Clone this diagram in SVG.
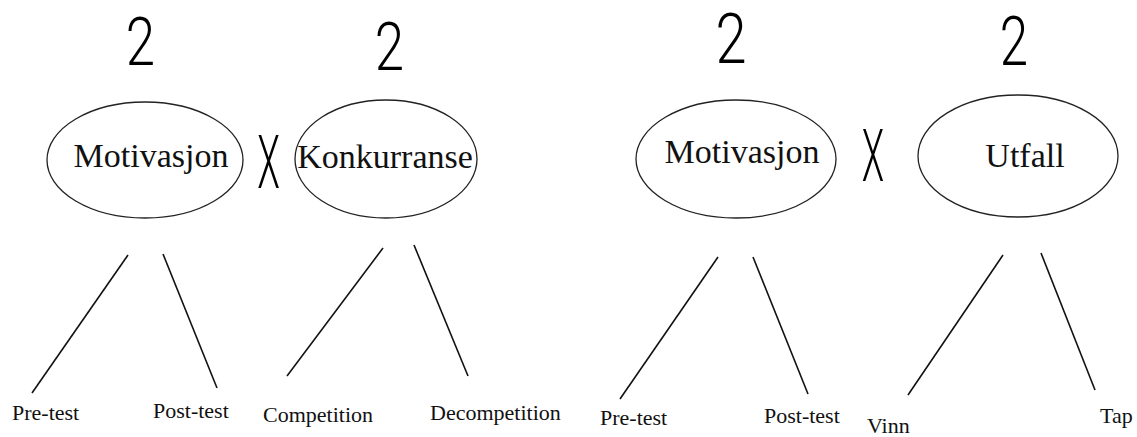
<svg xmlns="http://www.w3.org/2000/svg" width="1137" height="437" viewBox="0 0 1137 437">
<style>
.node ellipse{fill:#fff;stroke:#222;stroke-width:1.3}
.lbl{font-family:'Liberation Serif',serif;font-size:34px;fill:#111;text-anchor:middle}
.leaf{font-family:'Liberation Serif',serif;font-size:22px;fill:#111}
.hand{font-family:Roboto,'DejaVu Sans',sans-serif;font-weight:300;fill:#000;text-anchor:middle}
.conn line{stroke:#111;stroke-width:1.6}
</style>
<rect width="1137" height="437" fill="#fff"/>
<g id="factor-marks">
<text class="hand" font-size="66" transform="translate(140.5,65) scale(0.8,1)">2</text>
<text class="hand" font-size="66" transform="translate(389.5,70) scale(0.8,1)">2</text>
<text class="hand" font-size="70" transform="translate(731,63) scale(0.8,1)">2</text>
<text class="hand" font-size="68" transform="translate(1014,65) scale(0.75,1)">2</text>
<text class="hand" font-size="74" transform="translate(268.5,188) scale(0.5,1)">X</text>
<text class="hand" font-size="73" transform="translate(873,181) scale(0.5,1)">X</text>
</g>
<g id="node-motivasjon1" class="node">
<ellipse cx="145" cy="160" rx="98" ry="58"/>
<text class="lbl" x="151" y="167" font-family="Liberation Serif">Motivasjon</text>
</g>
<g id="node-konkurranse" class="node">
<ellipse cx="386" cy="159" rx="91" ry="59"/>
<text class="lbl" x="385" y="168" font-family="Liberation Serif">Konkurranse</text>
</g>
<g id="node-motivasjon2" class="node">
<ellipse cx="736" cy="159" rx="100" ry="59"/>
<text class="lbl" x="742" y="163" font-family="Liberation Serif">Motivasjon</text>
</g>
<g id="node-utfall" class="node">
<ellipse cx="1018" cy="156" rx="100" ry="61"/>
<text class="lbl" x="1025" y="167" font-family="Liberation Serif">Utfall</text>
</g>
<g id="connectors" class="conn">
<line x1="128" y1="255" x2="32" y2="393"/>
<line x1="163" y1="254" x2="217" y2="388"/>
<line x1="383" y1="248" x2="287" y2="376"/>
<line x1="414" y1="245" x2="468" y2="376"/>
<line x1="718" y1="257" x2="620" y2="399"/>
<line x1="753" y1="257" x2="808" y2="394"/>
<line x1="1003" y1="255" x2="908" y2="395"/>
<line x1="1041" y1="253" x2="1095" y2="390"/>
</g>
<g id="leaf-pretest1"><text class="leaf" x="12" y="420" font-family="Liberation Serif">Pre-test</text></g>
<g id="leaf-posttest1"><text class="leaf" x="153" y="418" font-family="Liberation Serif">Post-test</text></g>
<g id="leaf-competition"><text class="leaf" x="263" y="422" font-family="Liberation Serif">Competition</text></g>
<g id="leaf-decompetition"><text class="leaf" x="430" y="420" font-family="Liberation Serif">Decompetition</text></g>
<g id="leaf-pretest2"><text class="leaf" x="600" y="425" font-family="Liberation Serif">Pre-test</text></g>
<g id="leaf-posttest2"><text class="leaf" x="764" y="423" font-family="Liberation Serif">Post-test</text></g>
<g id="leaf-vinn"><text class="leaf" x="867" y="433" font-family="Liberation Serif">Vinn</text></g>
<g id="leaf-tap"><text class="leaf" x="1100" y="423" font-family="Liberation Serif">Tap</text></g>
</svg>
